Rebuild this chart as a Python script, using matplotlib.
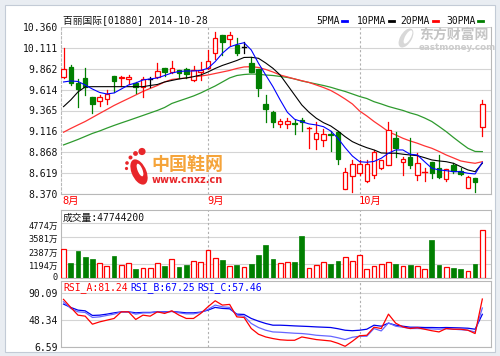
import matplotlib
matplotlib.use('Agg')
import matplotlib.pyplot as plt
import matplotlib.transforms as mtrans
from matplotlib.patches import Rectangle, Ellipse
from matplotlib.lines import Line2D

plt.rcParams['font.family'] = ['DejaVu Sans Mono', 'Noto Sans CJK SC']

## 数据 (百丽国际 01880, 2014-08 ~ 2014-10-28)
opens = [9.761, 9.887, 9.689, 9.756, 9.522, 9.482, 9.506, 9.776, 9.749, 9.740,
         9.689, 9.642, 9.740, 9.761, 9.868, 9.820, 9.848, 9.856, 9.729, 9.824,
         9.868, 10.054, 10.265, 10.213, 10.140, 10.122, 9.928, 9.856, 9.443, 9.344,
         9.201, 9.201, 9.213, 9.252, 9.150, 9.022, 9.014, 9.082, 9.113, 8.426,
         8.588, 8.617, 8.525, 8.597, 8.677, 8.716, 9.034, 8.755, 8.815, 8.597,
         8.625, 8.755, 8.677, 8.549, 8.716, 8.644, 8.445, 8.557, 9.172]
highs = [10.106, 9.907, 9.737, 9.868, 9.530, 9.550, 9.609, 9.776, 9.776, 9.788,
         9.708, 9.761, 9.768, 9.935, 9.868, 9.958, 9.848, 9.868, 9.895, 9.943,
         10.086, 10.304, 10.265, 10.297, 10.230, 10.180, 10.006, 9.860, 9.550, 9.359,
         9.264, 9.272, 9.252, 9.272, 9.172, 9.232, 9.141, 9.121, 9.121, 8.684,
         8.775, 8.775, 8.775, 8.895, 8.780, 9.225, 9.113, 8.815, 9.034, 8.855,
         8.677, 8.755, 8.835, 8.668, 8.736, 8.677, 8.588, 8.557, 9.490]
lows = [9.750, 9.669, 9.403, 9.550, 9.332, 9.419, 9.443, 9.589, 9.657, 9.681,
        9.577, 9.530, 9.642, 9.749, 9.776, 9.808, 9.749, 9.749, 9.720, 9.729,
        9.860, 9.975, 10.026, 10.146, 10.030, 10.050, 9.820, 9.542, 9.225, 9.172,
        9.172, 9.160, 9.082, 9.125, 8.915, 8.903, 8.942, 8.883, 8.724, 8.426,
        8.398, 8.597, 8.517, 8.557, 8.670, 8.716, 8.815, 8.597, 8.677, 8.537,
        8.525, 8.565, 8.557, 8.525, 8.617, 8.597, 8.438, 8.398, 9.065]
closes = [9.856, 9.696, 9.618, 9.642, 9.443, 9.522, 9.558, 9.720, 9.761, 9.761,
          9.642, 9.740, 9.740, 9.836, 9.827, 9.868, 9.816, 9.800, 9.848, 9.848,
          9.955, 10.232, 10.185, 10.265, 10.050, 10.122, 9.827, 9.630, 9.383, 9.232,
          9.240, 9.244, 9.204, 9.225, 9.155, 9.094, 9.082, 9.073, 8.784, 8.636,
          8.724, 8.724, 8.724, 8.867, 8.775, 9.133, 8.922, 8.784, 8.716, 8.736,
          8.629, 8.617, 8.577, 8.668, 8.644, 8.605, 8.577, 8.510, 9.439]

ma5 = [9.705, 9.717, 9.711, 9.669, 9.621, 9.580, 9.562, 9.574, 9.621, 9.669,
       9.693, 9.729, 9.741, 9.753, 9.782, 9.812, 9.830, 9.836, 9.836, 9.842,
       9.868, 9.947, 10.047, 10.122, 10.152, 10.173, 10.086, 9.928, 9.788, 9.649,
       9.491, 9.344, 9.261, 9.232, 9.205, 9.193, 9.172, 9.121, 9.034, 8.922,
       8.823, 8.755, 8.748, 8.758, 8.796, 8.856, 8.895, 8.895, 8.844, 8.835,
       8.755, 8.677, 8.657, 8.648, 8.636, 8.636, 8.617, 8.609, 8.748]
ma10 = [9.411, 9.491, 9.586, 9.646, 9.649, 9.649, 9.649, 9.649, 9.649, 9.649,
        9.649, 9.649, 9.663, 9.675, 9.705, 9.723, 9.741, 9.753, 9.768, 9.788,
        9.824, 9.866, 9.902, 9.931, 9.961, 9.997, 9.999, 9.987, 9.931, 9.868,
        9.788, 9.669, 9.550, 9.431, 9.344, 9.273, 9.220, 9.181, 9.121, 9.053,
        8.994, 8.955, 8.922, 8.895, 8.859, 8.856, 8.856, 8.844, 8.835, 8.827,
        8.803, 8.776, 8.764, 8.755, 8.736, 8.696, 8.657, 8.636, 8.736]
ma20 = [9.106, 9.151, 9.193, 9.234, 9.282, 9.330, 9.377, 9.425, 9.467, 9.508,
        9.550, 9.592, 9.628, 9.663, 9.705, 9.735, 9.744, 9.753, 9.765, 9.776,
        9.788, 9.806, 9.824, 9.842, 9.866, 9.884, 9.887, 9.878, 9.854, 9.824,
        9.788, 9.765, 9.741, 9.720, 9.699, 9.669, 9.639, 9.604, 9.556, 9.502,
        9.443, 9.359, 9.300, 9.234, 9.175, 9.113, 9.074, 9.034, 9.002, 8.975,
        8.943, 8.915, 8.877, 8.835, 8.800, 8.764, 8.748, 8.736, 8.755]
ma30 = [8.955, 8.987, 9.020, 9.056, 9.092, 9.121, 9.155, 9.187, 9.217, 9.246,
        9.276, 9.306, 9.336, 9.366, 9.401, 9.449, 9.479, 9.508, 9.538, 9.574,
        9.616, 9.657, 9.705, 9.753, 9.782, 9.794, 9.800, 9.797, 9.788, 9.782,
        9.771, 9.759, 9.741, 9.717, 9.699, 9.681, 9.663, 9.642, 9.616, 9.592,
        9.562, 9.532, 9.508, 9.470, 9.443, 9.413, 9.389, 9.366, 9.336, 9.312,
        9.276, 9.234, 9.175, 9.113, 9.044, 8.978, 8.915, 8.877, 8.875]

## 成交量 (万股)
volumes = [2545, 1316, 2340, 1814, 1638, 1258, 1024, 1901, 1082, 1316,
           731, 878, 878, 1316, 1024, 1609, 936, 1112, 1463, 1404,
           2457, 1697, 1550, 1024, 1112, 936, 1229, 1989, 2900, 1667,
           1268, 1328, 1328, 3620, 826, 1121, 1328, 1180, 1416, 1770,
           1475, 2006, 738, 1033, 1180, 1328, 1180, 1033, 1121, 1033,
           738, 3270, 1121, 885, 826, 738, 590, 1180, 4160]

rsi_a = [80.71, 68.20, 56.16, 54.59, 42.08, 45.68, 48.34, 51.00, 61.32, 61.32,
         49.43, 56.16, 54.59, 61.32, 58.82, 62.88, 56.16, 51.00, 51.00, 58.82,
         69.14, 78.52, 71.79, 72.89, 53.50, 52.56, 35.36, 26.45, 22.23, 19.72,
         17.85, 17.07, 17.07, 22.23, 20.19, 18.16, 17.07, 15.97, 12.37, 7.68,
         15.50, 24.10, 24.88, 37.39, 35.36, 57.72, 43.65, 37.86, 35.36, 36.61,
         34.27, 31.92, 30.04, 35.36, 34.27, 34.27, 32.70, 27.54, 81.24]
rsi_b = [76.95, 66.63, 61.32, 60.38, 52.56, 53.50, 55.69, 57.72, 61.32, 61.32,
         57.72, 59.75, 59.75, 61.32, 60.85, 61.94, 59.75, 58.19, 58.19, 60.38,
         65.07, 71.79, 69.14, 68.20, 56.16, 54.59, 43.18, 36.92, 32.70, 30.04,
         29.57, 28.79, 28.01, 27.54, 26.45, 24.88, 24.10, 23.32, 20.97, 18.16,
         21.76, 23.32, 23.32, 35.36, 31.61, 44.12, 38.96, 37.39, 35.36, 35.36,
         35.05, 34.74, 34.27, 35.05, 34.27, 33.48, 32.70, 30.04, 67.25]
rsi_c = [73.36, 68.20, 63.98, 62.88, 55.69, 56.16, 57.72, 59.75, 61.32, 61.32,
         59.75, 60.38, 60.38, 61.32, 61.32, 61.94, 60.85, 59.75, 59.75, 60.85,
         63.98, 68.20, 66.63, 66.01, 57.72, 57.25, 51.00, 46.78, 43.18, 40.52,
         40.52, 40.05, 39.43, 38.96, 38.49, 37.86, 37.39, 36.92, 35.05, 32.70,
         31.92, 32.70, 34.27, 40.52, 38.96, 43.65, 40.52, 38.96, 37.39, 37.39,
         36.92, 36.92, 36.61, 36.92, 36.61, 36.30, 35.83, 34.27, 57.46]

price_ticks = [8.370, 8.619, 8.868, 9.116, 9.365, 9.614, 9.862, 10.111, 10.360]
vol_ticks = [0, 1194, 2387, 3581, 4774]
rsi_ticks = [6.59, 48.34, 90.09]
month_labels = ['8月', '9月', '10月']
month_starts = [0, 20, 41]

RED = '#ff0000'
GREEN = '#007f00'
GRID = '#d4d4d4'
EDGE = '#b8b8b8'
W, H = 500, 356


def fx(x):
    return x / W


def fy(y):
    return 1 - y / H


fig = plt.figure(figsize=(5, 3.56), dpi=100, facecolor='#e9edf2')
fig.add_artist(Rectangle((fx(5), fy(352)), fx(490), 347 / H, transform=fig.transFigure,
                         facecolor='white', edgecolor='#c3cbd6', lw=0.8, zorder=0))

xl = (-0.35, 59.2)
ax1 = fig.add_axes([fx(61), fy(194), fx(430), 167 / H])
ax2 = fig.add_axes([fx(61), fy(277.5), fx(430), 67.5 / H])
ax3 = fig.add_axes([fx(61), fy(347), fx(430), 66 / H])

for ax in (ax1, ax2, ax3):
    ax.set_xlim(*xl)
    ax.set_facecolor('none')
    ax.set_xticks([])
    for s in ax.spines.values():
        s.set_color(EDGE)
        s.set_linewidth(0.8)
    ax.tick_params(axis='y', length=0, pad=2, labelsize=7, colors='#111111')
    for m in month_starts[1:]:
        ax.axvline(m, color='#b0b0b0', lw=0.8, ls=(0, (2, 2)), zorder=1)

ax1.spines['left'].set_linestyle((0, (2, 2)))
ax1.spines['top'].set_visible(False)

## K线
ax1.set_ylim(price_ticks[0], price_ticks[-1])
ax1.set_yticks(price_ticks)
ax1.set_yticklabels(['%.3f' % t for t in price_ticks])
ax1.grid(axis='y', color=GRID, lw=0.8)
ax1.set_axisbelow(True)
n = len(closes)
bw = 0.62
for i in range(n):
    o, h, l, c = opens[i], highs[i], lows[i], closes[i]
    if c > o:
        col = RED
    elif c < o:
        col = GREEN
    else:
        col = 'black'
    ax1.plot([i, i], [l, h], color=col, lw=0.9, zorder=3)
    if abs(c - o) < 0.008:
        ax1.plot([i - bw / 2, i + bw / 2], [c, c], color=col, lw=1.0, zorder=4)
    else:
        fc = 'white' if col == RED else col
        ax1.add_patch(Rectangle((i - bw / 2, min(o, c)), bw, abs(c - o), facecolor=fc,
                                edgecolor=col, lw=0.9, zorder=4))

x = list(range(n))
ax1.plot(x, ma30, color='#2e9a2e', lw=0.9, zorder=2)
ax1.plot(x, ma20, color='#ff3333', lw=0.9, zorder=2)
ax1.plot(x, ma10, color='black', lw=0.8, zorder=5)
ax1.plot(x, ma5, color='#0000ff', lw=0.8, zorder=5)

## 成交量
ax2.set_ylim(0, 5941)
ax2.set_yticks(vol_ticks)
ax2.set_yticklabels(['0'] + ['%d万' % t for t in vol_ticks[1:]])
ax2.tick_params(axis='y', labelsize=6.2)
down = mtrans.ScaledTranslation(0, -1.2 / 72, fig.dpi_scale_trans)
up = mtrans.ScaledTranslation(0, 1.0 / 72, fig.dpi_scale_trans)
for k, lab in enumerate(ax2.get_yticklabels()):
    lab.set_transform(lab.get_transform() + (up if k == 0 else down))
ax2.grid(axis='y', color=GRID, lw=0.8)
ax2.set_axisbelow(True)
vb = 0.66
for i in range(n):
    if closes[i] >= opens[i]:
        ax2.bar(i, volumes[i], width=vb, facecolor='white', edgecolor=RED, lw=0.9, zorder=3)
    else:
        ax2.bar(i, volumes[i], width=vb, facecolor=GREEN, edgecolor=GREEN, lw=0.5, zorder=3)

## RSI
ax3.set_ylim(6.59, 109.3)
ax3.set_yticks(rsi_ticks)
ax3.set_yticklabels(['%.2f' % t for t in rsi_ticks])
ax3.grid(axis='y', color=GRID, lw=0.8)
ax3.set_axisbelow(True)
ax3.plot(x, rsi_c, color='#0000ee', lw=0.9, zorder=3)
ax3.plot(x, rsi_b, color='#6666ff', lw=0.9, zorder=3)
ax3.plot(x, rsi_a, color=RED, lw=0.9, zorder=3)

## 文字
fig.text(fx(63), fy(20.5), '百丽国际[01880] 2014-10-28', fontsize=7, va='center', color='#111111')
legend = [('5PMA', 316, '#0000ff'), ('10PMA', 356.5, 'black'),
          ('20PMA', 400.5, RED), ('30PMA', 446, GREEN)]
for name, px, col in legend:
    fig.text(fx(px), fy(20.5), name, fontsize=7, va='center', color='#111111')
    end = px + len(name) * 5.85 + 3
    fig.add_artist(Line2D([fx(end), fx(end + 5)], [fy(20.5), fy(20.5)],
                          transform=fig.transFigure, color=col, lw=2))

for m, lab in zip(month_starts, month_labels):
    xp = 61 + (m - xl[0]) * 430 / (xl[1] - xl[0])
    fig.text(fx(xp - 1), fy(200.5), lab, fontsize=7.5, va='center', color=RED)

fig.text(fx(63), fy(217.5), '成交量:47744200', fontsize=7, va='center', color='#111111')
fig.text(fx(63), fy(288), 'RSI_A:81.24', fontsize=7, va='center', color=RED)
fig.text(fx(130), fy(288), 'RSI_B:67.25', fontsize=7, va='center', color='#0000ff')
fig.text(fx(197), fy(288), 'RSI_C:57.46', fontsize=7, va='center', color='#0000ff')

## 水印
fig.text(fx(419), fy(35), '东方财富网', fontsize=10, fontweight='bold', va='center',
         color='#c4c4c4', family=['Noto Sans CJK SC'])
fig.text(fx(419), fy(48), 'eastmoney.com', fontsize=6.3, fontweight='bold', va='center',
         color='#cccccc', family=['DejaVu Sans'])
fig.add_artist(Ellipse((fx(406), fy(38)), 12 / W, 20 / H, angle=-20, transform=fig.transFigure,
                       facecolor='#d8d8d8', edgecolor='none'))
fig.add_artist(Ellipse((fx(408), fy(37)), 6 / W, 14 / H, angle=-20, transform=fig.transFigure,
                       facecolor='white', edgecolor='none'))

fig.text(fx(151), fy(164), '中国鞋网', fontsize=13, fontweight='bold', va='center',
         color='#f5a43a', family=['Noto Sans CJK SC'])
fig.text(fx(152), fy(180), 'www.cnxz.cn', fontsize=7, fontweight='bold', va='center',
         color='#e8262a', family=['DejaVu Sans'])
fig.add_artist(Ellipse((fx(139), fy(172)), 15 / W, 26 / H, angle=15, transform=fig.transFigure,
                       facecolor='#e8262a', edgecolor='none'))
fig.add_artist(Ellipse((fx(140), fy(170)), 5 / W, 13 / H, angle=15, transform=fig.transFigure,
                       facecolor='white', edgecolor='none'))
for cx, cy, r in [(142, 151.5, 3.6), (135.5, 153.5, 2.4), (130.5, 157.5, 2.0),
                  (127, 163, 1.8), (126.5, 168.5, 1.6)]:
    fig.add_artist(Ellipse((fx(cx), fy(cy)), 2 * r / W, 2 * r / H, transform=fig.transFigure,
                           facecolor='#e8262a', edgecolor='none'))

fig.savefig('out.png', dpi=100, facecolor=fig.get_facecolor())
